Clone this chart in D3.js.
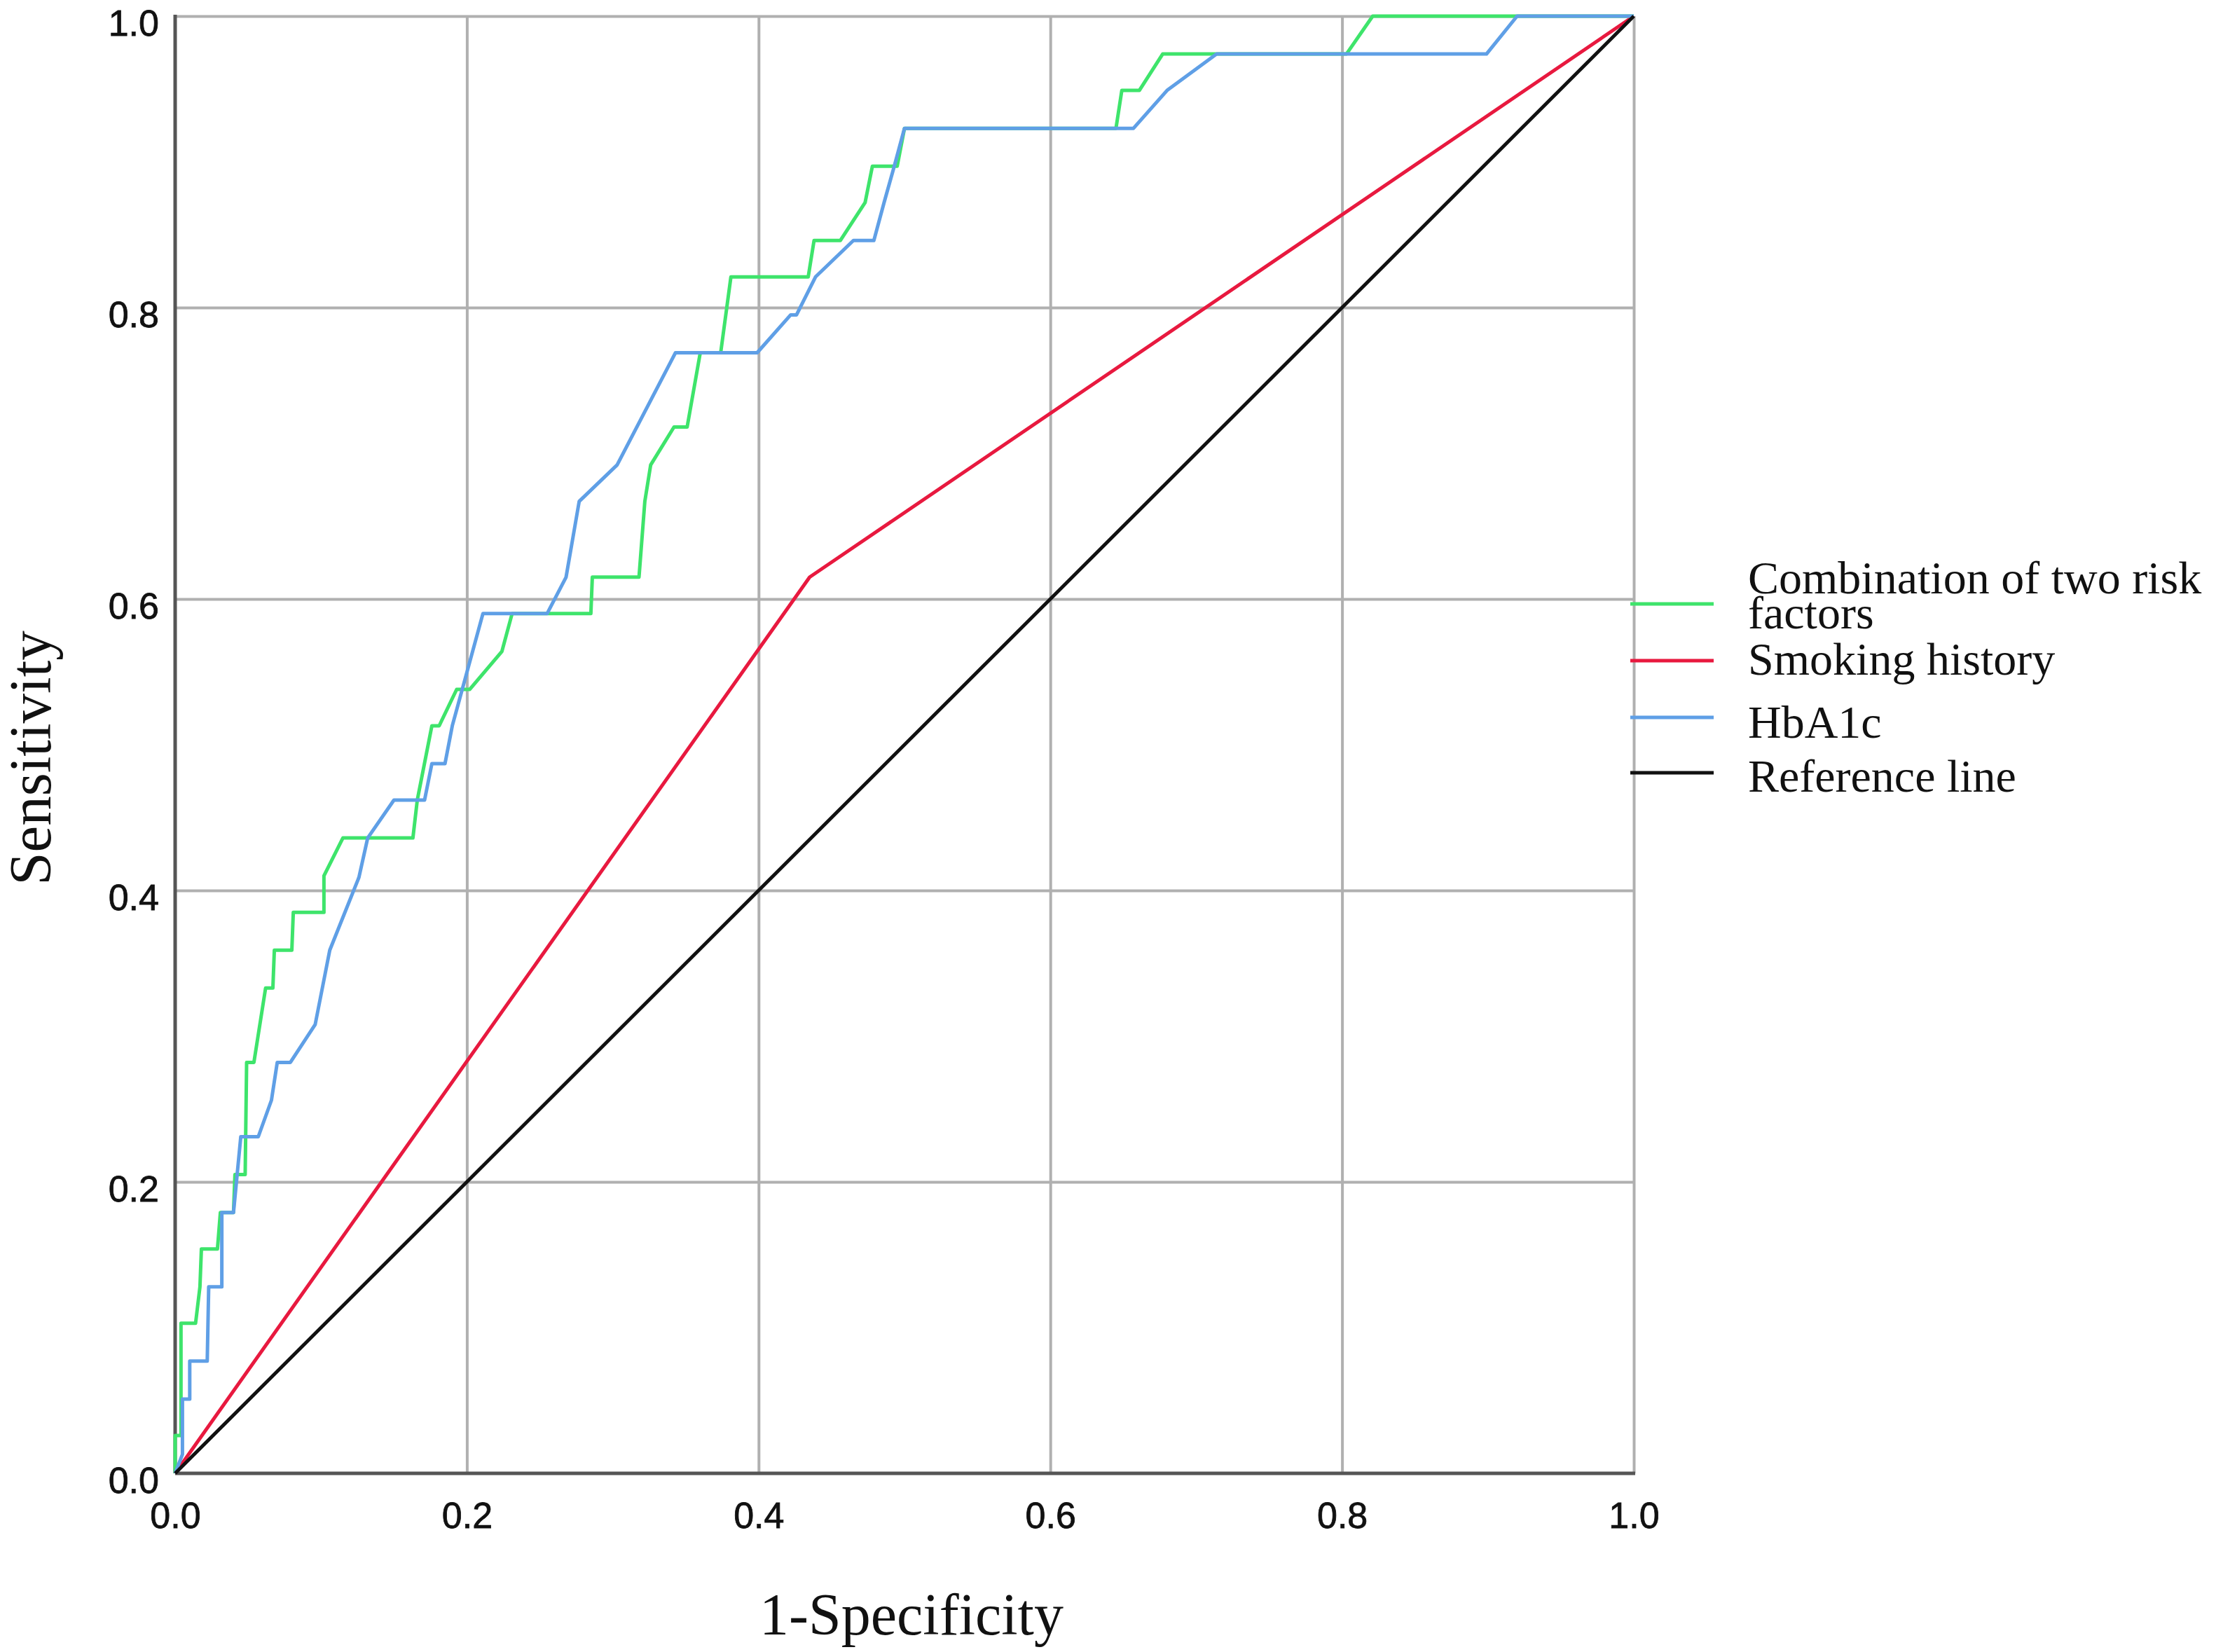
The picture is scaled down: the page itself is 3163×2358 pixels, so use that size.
<!DOCTYPE html>
<html>
<head>
<meta charset="utf-8">
<script src="https://cdn.jsdelivr.net/npm/d3@7/dist/d3.min.js"></script>
<style>
  html, body { margin: 0; padding: 0; background: #fff; }
  svg { display: block; }
</style>
</head>
<body>
<svg id="chart" width="3163" height="2358"></svg>
<script>
// ---- Data (1-Specificity, Sensitivity) ----
const xTickValues = [0.0, 0.2, 0.4, 0.6, 0.8, 1.0];
const yTickValues = [0.0, 0.2, 0.4, 0.6, 0.8, 1.0];

const combination = [
  [0,0],[0,0.026],[0.004,0.026],[0.004,0.103],[0.014,0.103],[0.017,0.128],[0.018,0.154],
  [0.029,0.154],[0.031,0.179],[0.040,0.179],[0.041,0.205],[0.048,0.205],[0.049,0.282],
  [0.054,0.282],[0.062,0.333],[0.067,0.333],[0.068,0.359],[0.080,0.359],[0.081,0.385],
  [0.102,0.385],[0.102,0.410],[0.115,0.436],[0.163,0.436],[0.166,0.462],[0.176,0.513],
  [0.181,0.513],[0.193,0.538],[0.202,0.538],[0.224,0.564],[0.231,0.590],[0.285,0.590],
  [0.286,0.615],[0.318,0.615],[0.322,0.667],[0.326,0.692],[0.342,0.718],[0.351,0.718],
  [0.360,0.769],[0.374,0.769],[0.381,0.821],[0.434,0.821],[0.438,0.846],[0.456,0.846],
  [0.473,0.872],[0.478,0.897],[0.495,0.897],[0.500,0.923],[0.645,0.923],[0.649,0.949],
  [0.661,0.949],[0.677,0.974],[0.803,0.974],[0.821,1.0],[1,1]
];

const smoking = [[0,0],[0.435,0.615],[1,1]];

const hba1c = [
  [0,0],[0.005,0.013],[0.005,0.051],[0.010,0.051],[0.010,0.077],[0.022,0.077],[0.023,0.128],
  [0.032,0.128],[0.032,0.179],[0.040,0.179],[0.045,0.231],[0.057,0.231],[0.066,0.256],
  [0.070,0.282],[0.079,0.282],[0.096,0.308],[0.106,0.359],[0.126,0.409],[0.132,0.436],
  [0.150,0.462],[0.171,0.462],[0.176,0.487],[0.185,0.487],[0.190,0.513],[0.211,0.590],
  [0.255,0.590],[0.268,0.615],[0.277,0.667],[0.303,0.692],[0.343,0.769],[0.399,0.769],
  [0.422,0.795],[0.426,0.795],[0.439,0.821],[0.465,0.846],[0.479,0.846],[0.486,0.872],
  [0.493,0.897],[0.500,0.923],[0.657,0.923],[0.680,0.949],[0.714,0.974],[0.899,0.974],
  [0.920,1.0],[1,1]
];

const referenceLine = [[0,0],[1,1]];

const seriesNames = ["Combination of two risk factors", "Smoking history", "HbA1c", "Reference line"];
const seriesColors = ["#3ee46b", "#e8193f", "#5f9fe6", "#111111"];

// ---- Layout ----
const plot = { left: 250, right: 2332, top: 23, bottom: 2103 };
const svg = d3.select("#chart");
svg.append("rect").attr("width", 3163).attr("height", 2358).attr("fill", "#fff");

const x = d3.scaleLinear().domain([0, 1]).range([plot.left, plot.right]);
const y = d3.scaleLinear().domain([0, 1]).range([plot.bottom, plot.top]);

// Grid lines
const gridColor = "#b0b0b0";
svg.append("g")
  .attr("transform", `translate(0,${plot.bottom})`)
  .call(d3.axisBottom(x).tickValues(xTickValues.slice(1)).tickSize(-(plot.bottom - plot.top)).tickFormat(""))
  .call(g => g.select(".domain").remove())
  .call(g => g.selectAll("line").attr("stroke", gridColor).attr("stroke-width", 4));

svg.append("g")
  .attr("transform", `translate(${plot.left},0)`)
  .call(d3.axisLeft(y).tickValues(yTickValues.slice(1)).tickSize(-(plot.right - plot.left)).tickFormat(""))
  .call(g => g.select(".domain").remove())
  .call(g => g.selectAll("line").attr("stroke", gridColor).attr("stroke-width", 4));

// Axis lines (left & bottom)
svg.append("line").attr("x1", x(0)).attr("x2", x(0)).attr("y1", y(1) - 2).attr("y2", y(0))
  .attr("stroke", "#555").attr("stroke-width", 5);
svg.append("line").attr("x1", x(0)).attr("x2", x(1) + 2).attr("y1", y(0)).attr("y2", y(0))
  .attr("stroke", "#555").attr("stroke-width", 5);

// Tick labels
const tickFont = "'Liberation Sans', Arial, sans-serif";
const xAxis = svg.append("g")
  .attr("transform", `translate(0,${plot.bottom})`)
  .call(d3.axisBottom(x).tickValues(xTickValues).tickSize(0).tickPadding(0).tickFormat(d3.format(".1f")));
xAxis.select(".domain").remove();
xAxis.selectAll("text")
  .attr("y", 78).attr("dy", null)
  .attr("font-family", tickFont).attr("font-size", 52).attr("fill", "#111")
  .attr("stroke", "#111").attr("stroke-width", 0.8);

const yAxis = svg.append("g")
  .attr("transform", `translate(${plot.left},0)`)
  .call(d3.axisLeft(y).tickValues(yTickValues).tickSize(0).tickPadding(0).tickFormat(d3.format(".1f")));
yAxis.select(".domain").remove();
yAxis.selectAll("text")
  .attr("x", -23).attr("dy", null).attr("y", 27)
  .attr("font-family", tickFont).attr("font-size", 52).attr("fill", "#111")
  .attr("stroke", "#111").attr("stroke-width", 0.8);

// Curves
const line = d3.line().x(d => x(d[0])).y(d => y(d[1]));
const drawOrder = [
  { data: combination, color: seriesColors[0] },
  { data: smoking, color: seriesColors[1] },
  { data: hba1c, color: seriesColors[2] },
  { data: referenceLine, color: seriesColors[3] }
];
drawOrder.forEach(s => {
  svg.append("path").datum(s.data)
    .attr("d", line)
    .attr("fill", "none")
    .attr("stroke", s.color)
    .attr("stroke-width", 5)
    .attr("stroke-linejoin", "round");
});

// Axis titles
const serif = "'Liberation Serif', 'Times New Roman', serif";
svg.append("text")
  .attr("x", (plot.left + plot.right) / 2 + 10).attr("y", 2333)
  .attr("text-anchor", "middle")
  .attr("font-family", serif).attr("font-size", 84).attr("fill", "#111")
  .text("1-Specificity");

svg.append("text")
  .attr("transform", "translate(72,1082) rotate(-90)")
  .attr("text-anchor", "middle")
  .attr("font-family", serif).attr("font-size", 85).attr("fill", "#111")
  .text("Sensitivity");

// Legend
const legend = svg.append("g");
const legendLineY = [862, 943, 1024, 1103];
const legendTextLines = [
  [["Combination of two risk", 847], ["factors", 897]],
  [["Smoking history", 963]],
  [["HbA1c", 1053]],
  [["Reference line", 1130]]
];
seriesNames.forEach((name, i) => {
  legend.append("line")
    .attr("x1", 2327).attr("x2", 2446)
    .attr("y1", legendLineY[i]).attr("y2", legendLineY[i])
    .attr("stroke", seriesColors[i]).attr("stroke-width", 5);
  legendTextLines[i].forEach(([t, by]) => {
    legend.append("text")
      .attr("x", 2495).attr("y", by)
      .attr("font-family", serif).attr("font-size", 66).attr("fill", "#111")
      .text(t);
  });
});
</script>
</body>
</html>
